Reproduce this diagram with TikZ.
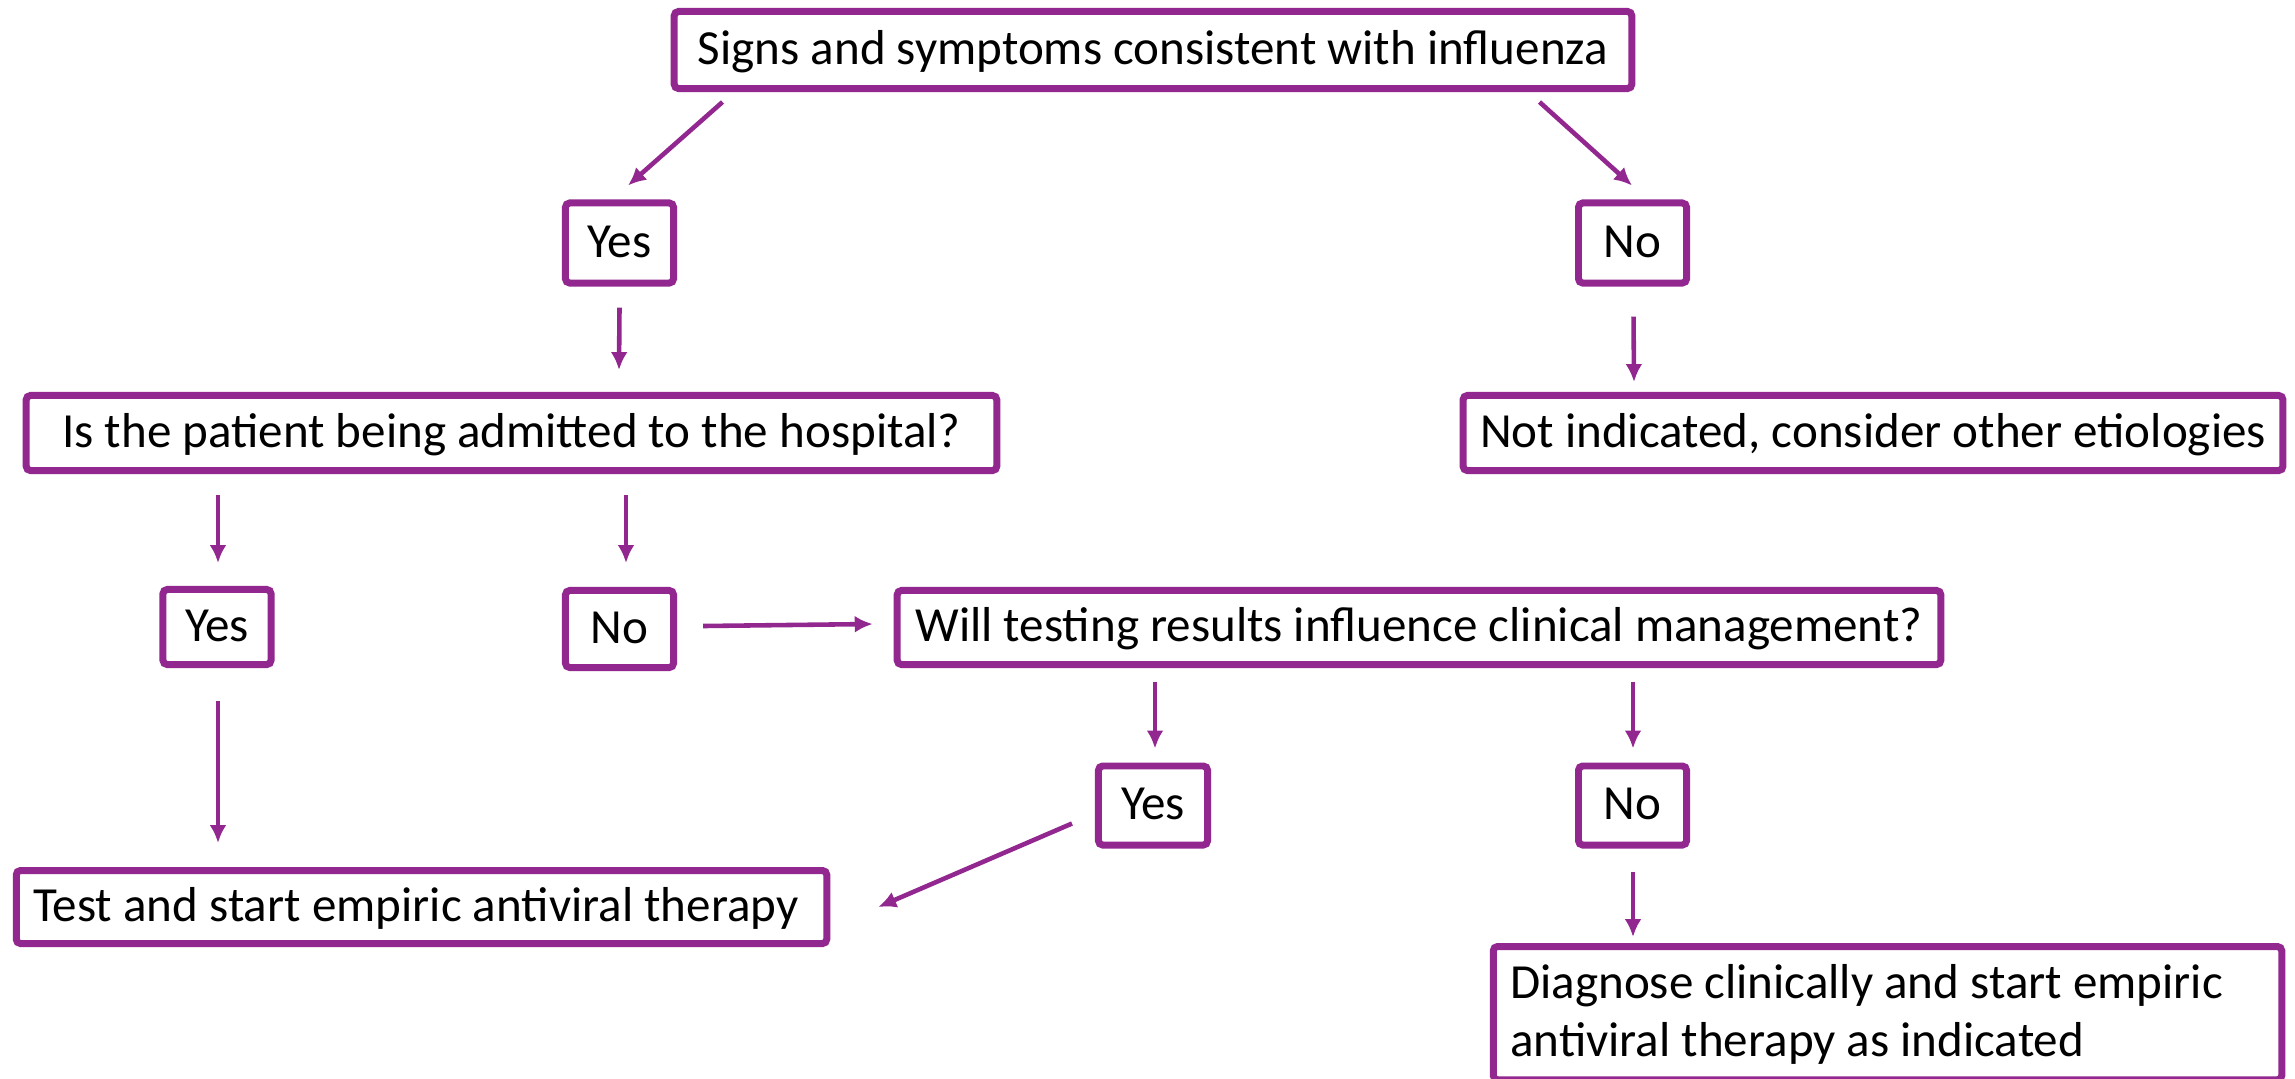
\documentclass[tikz,border=0pt]{standalone}
\usepackage{fontspec}
\setmainfont{Carlito}
\usetikzlibrary{arrows.meta}
\definecolor{pc}{RGB}{146,39,143}
\tikzset{
  bx/.style={draw=pc, line width=1.99pt, rounded corners=1.2pt, fill=white, text=black,
    font=\fontsize{13.95}{16.5}\selectfont, inner xsep=0.17cm, inner ysep=0pt,
    text height=9pt, text depth=1pt},
  arr/.style={draw=pc, line width=1.3pt, -{Latex[length=5.1pt,width=4.8pt]}}
}
\begin{document}
\begin{tikzpicture}[x=0.01cm, y=-0.01cm]
\clip (0,0) rectangle (2295,1078);
\fill[white] (0,0) rectangle (2295,1078);
% boxes
\node[bx, minimum width=9.57cm, minimum height=0.77cm] (sig) at (1153,50) {Signs and symptoms consistent with influenza};
\node[bx, minimum width=1.08cm, minimum height=0.80cm] (yes1) at (619.5,243) {Yes};
\node[bx, minimum width=1.08cm, minimum height=0.80cm] (no1) at (1632.5,243) {No};
\node[bx, minimum width=9.70cm, minimum height=0.75cm] (ask) at (511.5,433) {Is the patient being admitted to the hospital?};
\node[bx, minimum width=8.17cm, minimum height=0.75cm] (not) at (1873,433) {Not indicated, consider other etiologies};
\node[bx, minimum width=1.08cm, minimum height=0.75cm] (yes2) at (217,627) {Yes};
\node[bx, minimum width=1.08cm, minimum height=0.77cm] (no2) at (619.5,629) {No};
\node[bx, minimum width=10.43cm, minimum height=0.74cm] (will) at (1419,627.5) {Will testing results influence clinical management?};
\node[bx, minimum width=1.09cm, minimum height=0.79cm] (yes3) at (1153,805.5) {Yes};
\node[bx, minimum width=1.08cm, minimum height=0.79cm] (no3) at (1632.5,805.5) {No};
\node[bx, minimum width=8.10cm, minimum height=0.73cm, text width=7.76cm, align=flush left] (test) at (421.5,907) {Test and start empiric antiviral therapy};
\node[bx, anchor=north, minimum width=7.88cm, text width=7.54cm, align=flush left, inner ysep=5pt, text height=9.9pt, text depth=18pt] (diag) at (1887.5,943) {Diagnose clinically and start empiric\\antiviral therapy as indicated};
% connectors
\draw[arr] ([shift={(-430.5,10)}]sig.south) -- ([shift={(8.5,-14)}]yes1.north);
\draw[arr] ([shift={(386.5,10)}]sig.south) -- ([shift={(-0.5,-14)}]no1.north);
\draw[arr] ([shift={(0,21)}]yes1.south) -- ([shift={(107.5,-22)}]ask.north);
\draw[arr] ([shift={(1,30)}]no1.south) -- ([shift={(-239,-10)}]not.north);
\draw[arr] ([shift={(-293.5,21)}]ask.south) -- ([shift={(1,-23)}]yes2.north);
\draw[arr] ([shift={(114.5,21)}]ask.south) -- ([shift={(6.5,-24)}]no2.north);
\draw[arr] ([shift={(26,-3)}]no2.east) -- ([shift={(-21,-3.5)}]will.west);
\draw[arr] ([shift={(1,33)}]yes2.south) -- ([shift={(-203.5,-24)}]test.north);
\draw[arr] ([shift={(-264,14)}]will.south) -- ([shift={(2,-14)}]yes3.north);
\draw[arr] ([shift={(214,14)}]will.south) -- ([shift={(0.5,-14)}]no3.north);
\draw[arr] ([shift={(-23,18)}]yes3.west) -- ([shift={(48,0)}]test.east);
\draw[arr] ([shift={(0.5,23)}]no3.south) -- ([shift={(-254.5,-6)}]diag.north);
\end{tikzpicture}
\end{document}
